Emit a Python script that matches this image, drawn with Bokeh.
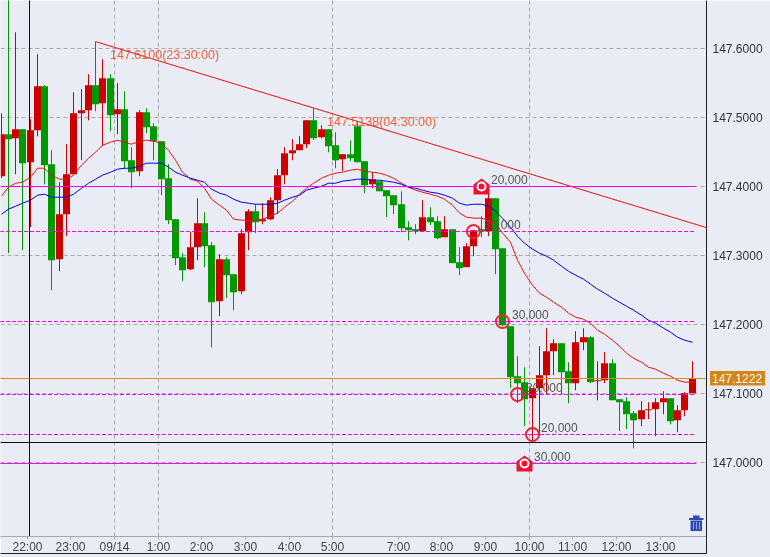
from math import floor
from bokeh.plotting import figure
from bokeh.embed import file_html
from bokeh.resources import INLINE
from bokeh.models import FixedTicker, NumeralTickFormatter, Range1d
from bokeh.core.properties import value

# OHLC for each 10-minute candle
opens = [147.4149,147.4758,147.4700,147.4831,147.4352,147.4816,147.5454,147.4323,147.2947,147.3599,147.4178,147.5063,147.5106,147.5469,147.5208,147.5570,147.5048,147.5121,147.4381,147.4222,147.5077,147.4874,147.4657,147.4120,147.3527,147.2976,147.2802,147.3121,147.3469,147.3150,147.2338,147.2947,147.2729,147.2483,147.3338,147.3643,
147.3498,147.3527,147.3801,147.4164,147.4483,147.4526,147.4613,147.4961,147.4715,147.4831,147.4598,147.4396,147.4468,147.4874,147.4367,147.4033,147.4077,147.3946,147.3874,147.3743,147.3411,147.3382,147.3353,147.3556,147.3498,147.3265,147.3382,147.2903,147.2831,147.3135,
147.3382,147.3353,147.3830,147.3106,147.1975,147.1251,147.1164,147.0932,147.1077,147.1266,147.1614,147.1730,147.1324,147.1150,147.1743,147.1815,147.1179,147.1193,147.1439,147.0918,147.0889,147.0715,147.0628,147.0758,147.0772,147.0874,147.0932,147.0613,147.0758,147.1004]
highs = [147.5063,147.6845,147.6236,147.4831,147.4976,147.5917,147.5469,147.4526,147.4062,147.4613,147.5367,147.5411,147.5628,147.6100,147.5845,147.5628,147.5498,147.5382,147.4570,147.5106,147.5135,147.4918,147.4657,147.4323,147.3527,147.3034,147.3338,147.3830,147.3628,147.3193,147.3019,147.2976,147.2729,147.3382,147.3671,147.3743,
147.3758,147.3845,147.4251,147.4570,147.4686,147.4729,147.4961,147.5138,147.4889,147.4831,147.4787,147.4468,147.4671,147.4932,147.4367,147.4207,147.4077,147.3946,147.3874,147.3932,147.3498,147.3454,147.3801,147.3700,147.3570,147.3570,147.3382,147.3121,147.3178,147.3367,
147.3570,147.3946,147.3830,147.3106,147.1975,147.1541,147.1381,147.1077,147.1686,147.1946,147.1786,147.1730,147.1454,147.1903,147.1946,147.1830,147.1468,147.1599,147.1497,147.0918,147.0946,147.0744,147.0889,147.0874,147.0932,147.1033,147.0932,147.0831,147.1019,147.1468]
lows = [147.4120,147.3034,147.4178,147.3077,147.3411,147.4729,147.4033,147.2497,147.2773,147.3280,147.4178,147.4381,147.4961,147.5092,147.4584,147.4802,147.4758,147.4251,147.3975,147.4149,147.4773,147.4381,147.3874,147.3454,147.2860,147.2628,147.2787,147.2932,147.2831,147.1671,147.2120,147.2381,147.2207,147.2439,147.3077,147.3324,
147.3454,147.3512,147.3599,147.4033,147.4381,147.4526,147.4555,147.4671,147.4700,147.4497,147.4265,147.4222,147.4367,147.4352,147.3903,147.3975,147.3932,147.3556,147.3599,147.3338,147.3222,147.3309,147.3353,147.3440,147.3237,147.3265,147.2889,147.2715,147.2831,147.2990,
147.3265,147.3280,147.2729,147.1975,147.1077,147.0860,147.0526,147.0280,147.0396,147.0990,147.1266,147.0976,147.0860,147.1048,147.1628,147.1150,147.0903,147.1150,147.0903,147.0454,147.0483,147.0207,147.0526,147.0628,147.0381,147.0700,147.0555,147.0439,147.0671,147.1004]
closes = [147.4758,147.4686,147.4831,147.4338,147.4816,147.5454,147.4309,147.2932,147.3599,147.4178,147.5063,147.5106,147.5469,147.5193,147.5570,147.5034,147.5121,147.4367,147.4207,147.5077,147.4860,147.4657,147.4106,147.3512,147.2961,147.2787,147.3121,147.3469,147.3135,147.2323,147.2947,147.2715,147.2468,147.3324,147.3643,147.3483,
147.3527,147.3801,147.4164,147.4483,147.4526,147.4613,147.4961,147.4700,147.4831,147.4584,147.4381,147.4468,147.4410,147.4352,147.4019,147.4106,147.3932,147.3859,147.3729,147.3396,147.3367,147.3353,147.3556,147.3483,147.3251,147.3382,147.2889,147.2816,147.3135,147.3367,
147.3353,147.3830,147.3092,147.1990,147.1237,147.1150,147.0918,147.1077,147.1266,147.1614,147.1730,147.1309,147.1150,147.1743,147.1815,147.1164,147.1193,147.1439,147.0903,147.0874,147.0700,147.0613,147.0758,147.0772,147.0874,147.0932,147.0599,147.0758,147.1004,147.1222]

ma_red = [147.3859,147.3990,147.4047,147.4062,147.4135,147.4265,147.4265,147.4164,147.4106,147.4106,147.4164,147.4309,147.4410,147.4497,147.4598,147.4642,147.4671,147.4642,147.4613,147.4657,147.4671,147.4657,147.4628,147.4526,147.4381,147.4207,147.4106,147.4077,147.3975,147.3816,147.3729,147.3657,147.3527,147.3512,147.3512,147.3512,
147.3527,147.3570,147.3614,147.3700,147.3787,147.3888,147.3975,147.4047,147.4120,147.4164,147.4193,147.4207,147.4236,147.4251,147.4222,147.4207,147.4193,147.4164,147.4120,147.4047,147.3990,147.3946,147.3917,147.3888,147.3859,147.3816,147.3729,147.3614,147.3556,147.3541,
147.3541,147.3512,147.3469,147.3324,147.3193,147.2932,147.2743,147.2570,147.2454,147.2396,147.2323,147.2251,147.2164,147.2106,147.2077,147.2019,147.1917,147.1859,147.1772,147.1686,147.1583,147.1511,147.1454,147.1381,147.1352,147.1294,147.1251,147.1193,147.1164,147.1164]
ma_blue = [147.3599,147.3671,147.3714,147.3758,147.3801,147.3874,147.3888,147.3845,147.3845,147.3845,147.3888,147.3975,147.4047,147.4106,147.4164,147.4207,147.4251,147.4265,147.4265,147.4294,147.4338,147.4338,147.4338,147.4280,147.4207,147.4164,147.4120,147.4091,147.4062,147.3961,147.3903,147.3874,147.3816,147.3772,147.3758,147.3743,
147.3743,147.3743,147.3758,147.3801,147.3845,147.3874,147.3946,147.3975,147.4004,147.4047,147.4047,147.4077,147.4091,147.4106,147.4106,147.4091,147.4091,147.4077,147.4062,147.4033,147.3990,147.3975,147.3946,147.3917,147.3903,147.3874,147.3830,147.3758,147.3729,147.3743,
147.3743,147.3714,147.3642,147.3541,147.3411,147.3280,147.3178,147.3092,147.3033,147.2990,147.2932,147.2845,147.2772,147.2715,147.2657,147.2584,147.2512,147.2454,147.2381,147.2323,147.2265,147.2207,147.2135,147.2062,147.2019,147.1946,147.1888,147.1816,147.1772,147.1743]

y_ticks = [147.0, 147.1, 147.2, 147.3, 147.4, 147.5, 147.6]
tick_candle = [4, 10, 16, 22, 28, 34, 40, 46, 55, 61, 67, 73, 79, 85, 91]
tick_label = ["22:00","23:00","09/14","1:00","2:00","3:00","4:00","5:00","7:00","8:00","9:00","10:00","11:00","12:00","13:00"]
grid_candle = [16, 22, 46, 73]

trend_candle = [13, 43]
trend_val = [147.6100, 147.5138]
last_price = 147.1222
last_line = 147.1217
solid_levels = [147.4, 146.9986]
dashed_levels = [147.33478, 147.20435, 147.09855, 147.04058]
circle_candle = [65, 69, 71, 73]
circle_val = [147.33478, 147.20435, 147.09855, 147.04058]
house_candle = [66, 72]
house_val = [147.4, 146.9986]
cross_px = 29.5
cross_val = 147.02899

BG = "#e9ecf4"; RED = "#cc0000"; GREEN = "#009900"; GRAY = "#a8a8a8"; MAG = "#ff00ee"; FRAME = "#222222"
FONT = "Liberation Sans"

def slot(i): return floor(1.0 + 7.275 * i) + 0.5
def Y(py): return 147.67029 - py / 690.0

# ranges are offset half a pixel: the page's drawing layer adds a 0.5px translate of its own
p = figure(width=770, height=557, output_backend="svg", toolbar_location=None,
           x_range=Range1d(0.5, 706.5), y_range=Range1d(Y(536.5), Y(0.5)),
           y_axis_location="right", min_border_left=0, min_border_right=64,
           min_border_top=0, min_border_bottom=21,
           background_fill_color=BG, border_fill_color=BG, outline_line_color=None)
p.styles = {"position": "fixed", "left": "0px", "top": "0px"}

tick_pos = [slot(i) - 3 for i in tick_candle]
ax = p.xaxis[0]
ax.ticker = FixedTicker(ticks=tick_pos)
ax.major_label_overrides = dict(zip(tick_pos, tick_label))
ax.axis_line_color = GRAY; ax.major_tick_line_color = GRAY
ax.major_tick_in = 0; ax.major_tick_out = 3; ax.minor_tick_line_color = None
ax.major_label_standoff = 0
ax.major_label_text_font = FONT; ax.major_label_text_font_size = "12px"; ax.major_label_text_color = "#444444"

ay = p.yaxis[0]
ay.ticker = FixedTicker(ticks=y_ticks)
ay.formatter = NumeralTickFormatter(format="0.0000")
ay.axis_line_color = FRAME; ay.major_tick_line_color = None; ay.minor_tick_line_color = None
ay.major_tick_in = 0; ay.major_tick_out = 0
ay.major_label_standoff = 6
ay.major_label_text_font = FONT; ay.major_label_text_font_size = "12px"; ay.major_label_text_color = "#333333"

p.xgrid.ticker = FixedTicker(ticks=[slot(i) - 3 for i in grid_candle])
p.ygrid.ticker = FixedTicker(ticks=y_ticks)
for g in (p.xgrid[0], p.ygrid[0]):
    g.grid_line_color = GRAY; g.grid_line_dash = "4 3"; g.grid_line_width = 1

xs = [slot(i) for i in range(len(opens))]
cols = [RED if c >= o else GREEN for o, c in zip(opens, closes)]
p.segment(xs, highs, xs, lows, line_color=cols, line_width=1)
p.vbar(xs, top=[max(a, b) for a, b in zip(opens, closes)], bottom=[min(a, b) for a, b in zip(opens, closes)],
       width=7, fill_color=cols, line_color=None)

p.line(xs, ma_red, line_color="#ee1111", line_width=1)
p.line(xs, ma_blue, line_color="#0000ee", line_width=1)

# trend line, extended to the frame's right edge
t0, t1 = slot(trend_candle[0]), slot(trend_candle[1])
slope = (trend_val[1] - trend_val[0]) / (t1 - t0)
p.line([t0, 706], [trend_val[0], trend_val[0] + slope * (706 - t0)], line_color="#ee1111", line_width=1)

# horizontal order levels
for lv in solid_levels:
    p.segment([0], [lv], [696], [lv], line_color=MAG, line_width=1)
for lv in dashed_levels:
    p.segment([0], [lv], [696], [lv], line_color=MAG, line_width=1, line_dash="4 2")
p.segment([0], [last_line], [706], [last_line], line_color="#e08a1a", line_width=1)

# crosshair
p.segment([0], [cross_val], [706], [cross_val], line_color="#111111", line_width=1)
p.segment([cross_px], [Y(0)], [cross_px], [Y(536)], line_color="#111111", line_width=1)

# order markers
p.scatter([slot(i) for i in circle_candle], circle_val, marker="circle", size=13,
          fill_color=None, line_color="#ee2233", line_width=2)
for hc, hy in zip(house_candle, house_val):
    hx = slot(hc)
    p.patch([hx - 8, hx - 8, hx, hx + 8, hx + 8], [hy - 8 / 690, hy + 2 / 690, hy + 8 / 690, hy + 2 / 690, hy - 8 / 690],
            fill_color="#ee1133", line_color=None)
p.scatter([slot(i) for i in house_candle], house_val, marker="circle", size=8, fill_color="#ee1133", line_color="white", line_width=2)

# texts
lab_px = [491, 484, 512, 526, 541, 534]
lab_py = [179, 224, 314, 387, 427, 456]
lab_txt = ["20,000", "30,000", "30,000", "30,000", "20,000", "30,000"]
p.text(lab_px, [Y(b) for b in lab_py], text=lab_txt, text_font=value(FONT),
       text_font_size="12px", text_color="#555555", text_baseline="middle", text_align="left")
p.text([110, 327], [Y(55), Y(122)], text=["147.6100(23:30:00)", "147.5138(04:30:00)"],
       text_font=value(FONT), text_font_size="12.5px", text_color="#f0603a", text_baseline="middle", text_align="left")

# trash can
tc = "#2f4bb0"
p.quad(left=[689], right=[703.5], top=[Y(518)], bottom=[Y(520)], fill_color=tc, line_color=None)
p.quad(left=[693], right=[699.5], top=[Y(515.5)], bottom=[Y(518)], fill_color=tc, line_color=None)
p.quad(left=[690.5], right=[702], top=[Y(520.5)], bottom=[Y(531)], fill_color=tc, line_color=None)
p.segment([693.5, 696.5, 699.5], [Y(522)] * 3, [693.5, 696.5, 699.5], [Y(529.5)] * 3, line_color="#8ea0e6", line_width=1)

# transparent overlay with the same price scale over the whole window: price tag and lower frame
q = figure(width=770, height=557, output_backend="svg", toolbar_location=None,
           x_range=Range1d(0.5, 770.5), y_range=Range1d(Y(557.5), Y(0.5)),
           min_border=0, background_fill_color=None, border_fill_color=None, outline_line_color=None)
q.axis.visible = False
q.grid.visible = False
q.styles = {"position": "fixed", "left": "0px", "top": "0px"}
q.quad(left=[710], right=[765], top=[Y(371)], bottom=[Y(385.5)], fill_color="#d4861e", line_color=None)
q.text([712], [last_price], text=["147.1222"], text_font=value(FONT), text_font_size="12px",
       text_color="white", text_baseline="middle", text_align="left")
q.segment([0], [Y(553.5)], [706.5], [Y(553.5)], line_color=FRAME, line_width=1)
q.segment([706.5], [Y(536)], [706.5], [Y(553.5)], line_color=FRAME, line_width=1)

open("out.html", "w").write(file_html([p, q], INLINE))
